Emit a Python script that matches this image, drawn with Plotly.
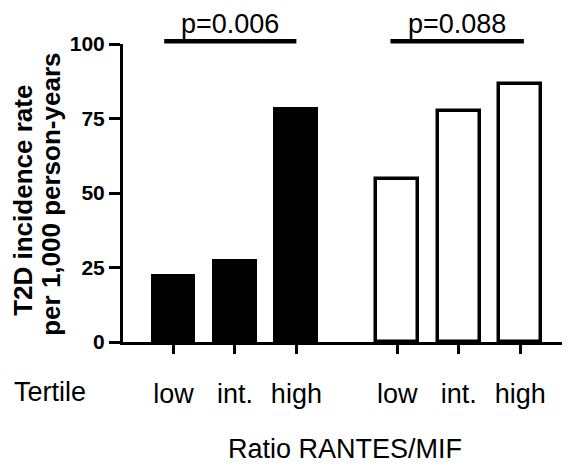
import plotly.graph_objects as go

# ---- data ----
tertiles = ["low", "int.", "high"]
black_values = [22.1, 27.1, 78.1]
white_values = [54.6, 77.4, 86.7]
p_labels = ["p=0.006", "p=0.088"]
y_ticks = [0, 25, 50, 75, 100]
y_title_lines = ["T2D incidence rate", "per 1,000 person-years"]

# ---- layout helpers ----
group_offsets = [0.0, 3.64]
black_x = [i + group_offsets[0] for i in range(len(tertiles))]
white_x = [i + group_offsets[1] for i in range(len(tertiles))]
bracket_spans = [(black_x[0] - 0.15, black_x[-1]), (white_x[0] - 0.11, white_x[-1] + 0.06)]

FONT = "Liberation Sans, Arial, Helvetica, sans-serif"

fig = go.Figure()
fig.add_trace(go.Bar(x=black_x, y=black_values, width=0.68,
                     marker=dict(color="black", line=dict(color="black", width=3)),
                     showlegend=False))
fig.add_trace(go.Bar(x=white_x, y=white_values, width=0.68,
                     marker=dict(color="white", line=dict(color="black", width=3.5)),
                     showlegend=False))

for (x0, x1), lab in zip(bracket_spans, p_labels):
    fig.add_shape(type="line", xref="x", yref="paper", x0=x0, x1=x1, y0=1.009, y1=1.009,
                  line=dict(color="black", width=4.5))
    fig.add_annotation(xref="x", yref="paper", x=(x0 + x1) / 2, y=1.014, yanchor="bottom",
                       text=lab, showarrow=False, borderpad=0,
                       font=dict(family=FONT, size=27, color="black"))

fig.add_annotation(xref="paper", yref="paper", x=-0.160, y=-0.112, xanchor="center", yanchor="top",
                   text="Tertile", showarrow=False,
                   font=dict(family=FONT, size=27, color="black"))

fig.add_annotation(xref="paper", yref="paper", x=0.488, y=-0.303, xanchor="center", yanchor="top",
                   text="Ratio RANTES/MIF", showarrow=False,
                   font=dict(family=FONT, size=27, color="black"))

for xp, yp, line in zip([-0.2198, -0.1582], [0.477, 0.494], y_title_lines):
    fig.add_annotation(xref="paper", yref="paper", x=xp, y=yp, xanchor="center", yanchor="middle",
                       textangle=-90, text="<b>" + line + "</b>",
                       showarrow=False, font=dict(family=FONT, size=26, color="black"))

fig.update_layout(
    width=570, height=471,
    margin=dict(l=115, r=0, t=36, b=136.5),
    paper_bgcolor="white", plot_bgcolor="white",
    bargap=0,
    xaxis=dict(range=[-0.82, 6.58], showline=True, linewidth=3, linecolor="black",
               ticks="outside", ticklen=9, tickwidth=3, tickcolor="black",
               tickvals=black_x + white_x, ticktext=tertiles + tertiles,
               ticklabelstandoff=17, automargin=False,
               tickfont=dict(family=FONT, size=27, color="black"),
               showgrid=False, zeroline=False),
    yaxis=dict(range=[0, 100], showline=True, linewidth=3, linecolor="black",
               ticks="outside", ticklen=11, tickwidth=3, tickcolor="black",
               tickvals=y_ticks, ticklabelstandoff=0, automargin=False,
               tickfont=dict(family=FONT, size=21, color="black", weight="bold"),
               showgrid=False, zeroline=False),
)

fig.write_html("out.html")
